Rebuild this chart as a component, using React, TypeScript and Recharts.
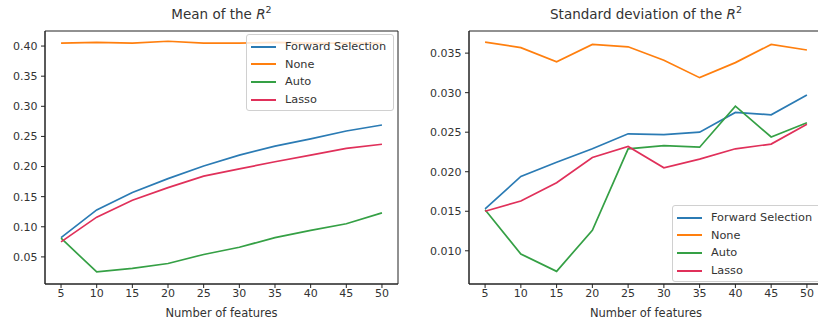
// Two matplotlib-style panels: mean and standard deviation of R² against the
// number of features, one line per feature-selection method.

import { Legend, Line, LineChart, ReferenceArea, XAxis, YAxis } from "recharts";

const FEATURES = [5, 10, 15, 20, 25, 30, 35, 40, 45, 50];
const X_DOMAIN: [number, number] = [2.75, 52.25];

// Mean of R²
const MEAN_FORWARD = [0.082, 0.128, 0.157, 0.18, 0.201, 0.219, 0.234, 0.246, 0.259, 0.269];
const MEAN_NONE = [0.405, 0.406, 0.405, 0.408, 0.405, 0.405, 0.406, 0.405, 0.405, 0.405];
const MEAN_AUTO = [0.081, 0.025, 0.031, 0.039, 0.054, 0.066, 0.082, 0.094, 0.105, 0.123];
const MEAN_LASSO = [0.075, 0.116, 0.144, 0.165, 0.184, 0.196, 0.208, 0.219, 0.23, 0.237];

// Standard deviation of R²
const STD_FORWARD = [0.0153, 0.0194, 0.0212, 0.0229, 0.0248, 0.0247, 0.025, 0.0275, 0.0272, 0.0297];
const STD_NONE = [0.0364, 0.0357, 0.0339, 0.0361, 0.0358, 0.0341, 0.0319, 0.0338, 0.0361, 0.0354];
const STD_AUTO = [0.0152, 0.0096, 0.0074, 0.0126, 0.0229, 0.0233, 0.0231, 0.0283, 0.0244, 0.0262];
const STD_LASSO = [0.015, 0.0163, 0.0186, 0.0218, 0.0232, 0.0205, 0.0216, 0.0229, 0.0235, 0.026];

const MEAN_TICKS = [0.05, 0.1, 0.15, 0.2, 0.25, 0.3, 0.35, 0.4];
const STD_TICKS = [0.01, 0.015, 0.02, 0.025, 0.03, 0.035];

const SERIES = [
  { key: "forward", name: "Forward Selection", color: "#2b7bb4" },
  { key: "none", name: "None", color: "#ff7f0e" },
  { key: "auto", name: "Auto", color: "#35a045" },
  { key: "lasso", name: "Lasso", color: "#e0305a" },
];

const FONT = "'DejaVu Sans', Verdana, sans-serif";
const INK = "#222";
const TEXT = "#333";

type Row = { x: number; forward: number; none: number; auto: number; lasso: number };

function rows(f: number[], n: number[], a: number[], l: number[]): Row[] {
  return FEATURES.map((x, i) => ({ x, forward: f[i], none: n[i], auto: a[i], lasso: l[i] }));
}

const meanData = rows(MEAN_FORWARD, MEAN_NONE, MEAN_AUTO, MEAN_LASSO);
const stdData = rows(STD_FORWARD, STD_NONE, STD_AUTO, STD_LASSO);

// matplotlib-like legend box; keeps the series order instead of Recharts' sort
function LegendBox({ payload }: { payload?: any[] }) {
  const items = SERIES.map((s) => (payload ?? []).find((p) => p.value === s.name)).filter(Boolean);
  return (
    <div
      style={{
        background: "rgba(255,255,255,0.8)",
        border: "1px solid #d0d0d0",
        borderRadius: 3,
        padding: "3px 0 2px 0",
        fontFamily: FONT,
        fontSize: 11.3,
        color: TEXT,
        boxSizing: "border-box",
      }}
    >
      {items.map((p: any) => (
        <div key={p.value} style={{ display: "flex", alignItems: "center", height: 17.6 }}>
          <span style={{ width: 25, height: 2, marginLeft: 4, marginRight: 9, background: p.color }} />
          <span style={{ whiteSpace: "nowrap" }}>{p.value}</span>
        </div>
      ))}
    </div>
  );
}

type PanelProps = {
  data: Row[];
  left: number;
  width: number;
  marginRight: number;
  yWidth: number;
  yDomain: [number, number];
  yTicks: number[];
  digits: number;
  legendPos: { left: number; top: number; width: number };
};

function Panel(p: PanelProps) {
  return (
    <div style={{ position: "absolute", left: p.left, top: 0 }}>
      <LineChart
        width={p.width}
        height={322}
        data={p.data}
        margin={{ top: 31, right: p.marginRight, bottom: 0, left: 0 }}
      >
        <XAxis
          dataKey="x"
          type="number"
          domain={X_DOMAIN}
          ticks={FEATURES}
          interval={0}
          height={38}
          stroke={INK}
          tickSize={4}
          tickMargin={1.5}
          tick={{ fill: TEXT, fontSize: 11, fontFamily: FONT }}
          label={{
            value: "Number of features",
            position: "insideBottom",
            offset: 5,
            fill: TEXT,
            fontSize: 11.5,
            fontFamily: FONT,
          }}
        />
        <YAxis
          type="number"
          domain={p.yDomain}
          ticks={p.yTicks}
          interval={0}
          width={p.yWidth}
          stroke={INK}
          tickSize={4}
          tickMargin={3.5}
          tickFormatter={(v: number) => v.toFixed(p.digits)}
          tick={{ fill: TEXT, fontSize: 11, fontFamily: FONT }}
        />
        {/* full box frame, like matplotlib spines */}
        <ReferenceArea
          x1={X_DOMAIN[0]}
          x2={X_DOMAIN[1]}
          y1={p.yDomain[0]}
          y2={p.yDomain[1]}
          fill="none"
          stroke={INK}
          strokeWidth={1}
          ifOverflow="visible"
        />
        {SERIES.map((s) => (
          <Line
            key={s.key}
            dataKey={s.key}
            name={s.name}
            stroke={s.color}
            strokeWidth={1.7}
            dot={false}
            activeDot={false}
            isAnimationActive={false}
          />
        ))}
        <Legend
          layout="vertical"
          align="center"
          verticalAlign="middle"
          content={(props: any) => <LegendBox payload={props.payload} />}
          wrapperStyle={{ ...p.legendPos, position: "absolute", height: "auto" }}
        />
      </LineChart>
    </div>
  );
}

function Title({ center, text }: { center: number; text: string }) {
  return (
    <div
      style={{
        position: "absolute",
        left: center - 150,
        width: 300,
        top: 6,
        textAlign: "center",
        fontFamily: FONT,
        fontSize: 13.5,
        color: TEXT,
        whiteSpace: "nowrap",
      }}
    >
      {text}
      <i>R</i>
      <sup style={{ fontSize: 9.5, verticalAlign: 0, position: "relative", top: -6 }}>2</sup>
    </div>
  );
}

export default function App() {
  return (
    <div
      style={{
        position: "absolute",
        left: 0,
        top: 0,
        width: 818,
        height: 322,
        overflow: "hidden",
        background: "#fff",
      }}
    >
      <Panel
        data={meanData}
        left={0}
        width={410}
        marginRight={12}
        yWidth={45}
        yDomain={[0.005, 0.425]}
        yTicks={MEAN_TICKS}
        digits={2}
        legendPos={{ left: 246, top: 34, width: 148 }}
      />
      <Panel
        data={stdData}
        left={420}
        width={403}
        marginRight={0}
        yWidth={49}
        yDomain={[0.0058, 0.0378]}
        yTicks={STD_TICKS}
        digits={3}
        legendPos={{ left: 252, top: 205, width: 150 }}
      />
      <Title center={221.5} text="Mean of the " />
      <Title center={646} text="Standard deviation of the " />
    </div>
  );
}
